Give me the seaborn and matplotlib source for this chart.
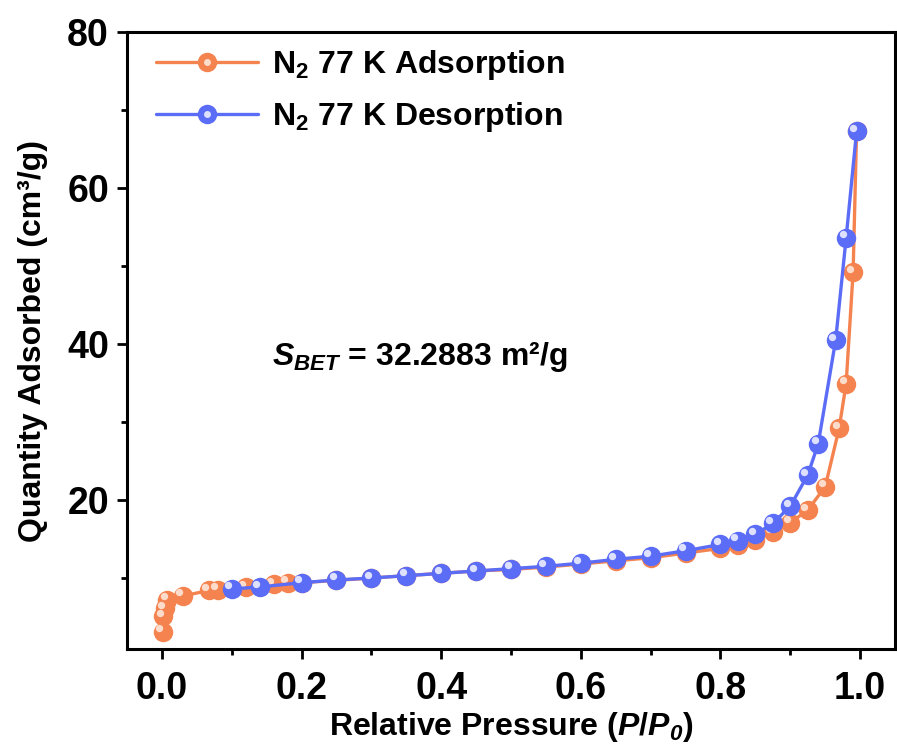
import matplotlib
matplotlib.use("Agg")
import matplotlib.pyplot as plt
import matplotlib.transforms as mtransforms
from matplotlib.lines import Line2D
from matplotlib.legend_handler import HandlerTuple
from matplotlib.ticker import MultipleLocator
import seaborn as sns

# ---- data ----
ads_x = [0.001, 0.002, 0.004, 0.008, 0.03, 0.067, 0.08, 0.12, 0.16, 0.18, 0.2,
         0.25, 0.3, 0.35, 0.4, 0.45, 0.5, 0.55, 0.6, 0.65, 0.7, 0.75,
         0.8, 0.825, 0.85, 0.875, 0.9, 0.925, 0.95, 0.97, 0.98, 0.99, 0.995]
ads_y = [3.1, 5.1, 6.1, 7.2, 7.7, 8.4, 8.5, 8.8, 9.2, 9.4, 9.4,
         9.7, 10.0, 10.3, 10.6, 10.9, 11.1, 11.4, 11.8, 12.2, 12.6, 13.2,
         13.8, 14.2, 14.9, 15.9, 17.1, 18.7, 21.7, 29.2, 34.9, 49.2, 67.3]
des_x = [0.995, 0.98, 0.965, 0.94, 0.925, 0.9, 0.875, 0.85, 0.825, 0.8,
         0.75, 0.7, 0.65, 0.6, 0.55, 0.5, 0.45, 0.4, 0.35, 0.3, 0.25, 0.2, 0.14, 0.1]
des_y = [67.3, 53.6, 40.5, 27.2, 23.2, 19.2, 17.0, 15.6, 14.8, 14.3,
         13.5, 12.8, 12.4, 11.9, 11.5, 11.2, 10.9, 10.6, 10.3, 10.0, 9.75, 9.4, 8.85, 8.6]

xticks = [0.0, 0.2, 0.4, 0.6, 0.8, 1.0]
yticks = [20, 40, 60, 80]

ads_color = "#F5834F"
des_color = "#5B6CF6"
ads_hi = "#FDDCCB"
des_hi = "#DDE1FF"

sns.set_theme(style="ticks")
plt.rcParams["font.family"] = ["Liberation Sans", "DejaVu Sans"]
plt.rcParams["font.weight"] = "bold"
plt.rcParams["text.color"] = "black"
plt.rcParams["axes.labelcolor"] = "black"
plt.rcParams["xtick.color"] = "black"
plt.rcParams["ytick.color"] = "black"
plt.rcParams["mathtext.fontset"] = "custom"
plt.rcParams["mathtext.rm"] = "Liberation Sans:bold"
plt.rcParams["mathtext.bf"] = "Liberation Sans:bold"
plt.rcParams["mathtext.it"] = "Liberation Sans:bold:italic"
plt.rcParams["mathtext.sf"] = "Liberation Sans:bold:italic"

fig = plt.figure(figsize=(8.97, 7.51), dpi=100)
ax = fig.add_axes([127 / 897, 1 - 649 / 751, (895 - 127) / 897, (649 - 32) / 751])

ms = 14
lw = 2.4
sns.lineplot(x=ads_x, y=ads_y, ax=ax, color=ads_color, linewidth=lw, marker="o",
             markersize=ms, markeredgewidth=0, sort=False, zorder=2)
hi_tr = mtransforms.offset_copy(ax.transData, fig=fig, x=-2.5, y=2.5, units="points")
sns.scatterplot(x=ads_x, y=ads_y, ax=ax, color=ads_hi, s=28, linewidth=0,
                transform=hi_tr, zorder=3)
sns.lineplot(x=des_x, y=des_y, ax=ax, color=des_color, linewidth=lw, marker="o",
             markersize=ms, markeredgewidth=0, sort=False, zorder=4)
sns.scatterplot(x=des_x, y=des_y, ax=ax, color=des_hi, s=28, linewidth=0,
                transform=hi_tr, zorder=5)

ax.set_xlim(-0.05, 1.05)
ax.set_ylim(0.9, 80)
ax.set_xticks(xticks)
ax.set_xticklabels([f"{v:.1f}" for v in xticks])
ax.set_yticks(yticks)
ax.xaxis.set_minor_locator(MultipleLocator(0.1))
ax.yaxis.set_minor_locator(MultipleLocator(10))

for s in ax.spines.values():
    s.set_linewidth(2.2)
    s.set_color("black")
    s.set_visible(True)
ax.tick_params(which="major", direction="out", length=7, width=2, labelsize=27,
               pad=6, color="black")
ax.tick_params(axis="x", which="major", pad=9)
ax.tick_params(which="minor", direction="out", length=4, width=2, color="black")
for lab in ax.get_xticklabels() + ax.get_yticklabels():
    lab.set_fontweight("bold")

ax.set_xlabel("Relative Pressure ($\\mathsf{P}$/$\\mathsf{P}_\\mathsf{0}$)",
              fontsize=23, fontweight="bold", labelpad=2)
ax.set_ylabel("Quantity Adsorbed (cm³/g)", fontsize=23, fontweight="bold", labelpad=14)

ax.text(0.158, 38.3, "$\\mathit{S}_{\\mathit{BET}}$ = 32.2883 m²/g", fontsize=23,
        fontweight="bold", va="center", ha="left")

h1 = (Line2D([], [], color=ads_color, lw=lw, marker="o", markersize=ms, markeredgewidth=0),
      Line2D([], [], color=ads_hi, lw=0, marker="o", markersize=5, markeredgewidth=0))
h2 = (Line2D([], [], color=des_color, lw=lw, marker="o", markersize=ms, markeredgewidth=0),
      Line2D([], [], color=des_hi, lw=0, marker="o", markersize=5, markeredgewidth=0))
leg = ax.legend([h1, h2], ["N$_2$ 77 K Adsorption", "N$_2$ 77 K Desorption"],
                handler_map={tuple: HandlerTuple(ndivide=1, pad=0)},
                loc="upper left", bbox_to_anchor=(0.0, 1.02), frameon=False,
                fontsize=23, handlelength=3.2, handletextpad=0.45, labelspacing=0.55)
for t in leg.get_texts():
    t.set_fontweight("bold")

fig.savefig("out.png", dpi=100)
